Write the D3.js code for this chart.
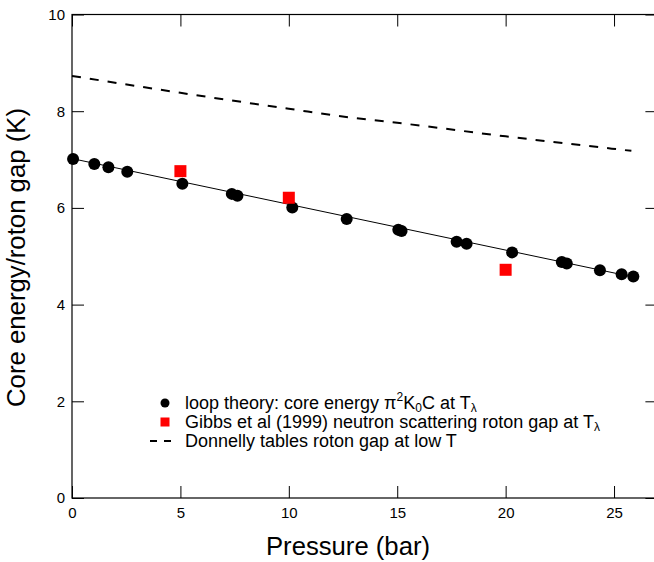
<!DOCTYPE html>
<html>
<head>
<meta charset="utf-8">
<script src="https://cdn.jsdelivr.net/npm/d3@7"></script>
<style>
  body { margin: 0; background: #fff; }
  svg { font-family: "Liberation Sans", Arial, Helvetica, sans-serif; }
</style>
</head>
<body>
<div id="chart"></div>
<script>
// loop theory core energy at T_lambda (pressure in bar, energy in K)
const loopPressure = [0.05, 1.03, 1.68, 2.55, 5.09, 7.37, 7.63, 10.16, 12.67, 15.05, 15.2, 17.74, 18.2, 20.3, 22.59, 22.82, 24.35, 25.35, 25.89];
const loopEnergy   = [7.01, 6.91, 6.84, 6.75, 6.50, 6.29, 6.25, 6.01, 5.77, 5.55, 5.52, 5.30, 5.26, 5.08, 4.88, 4.85, 4.71, 4.63, 4.58];

// straight fit through the loop theory points
const fitPressure = [0, 26];
const fitEnergy = [7.02, 4.56];

// Gibbs et al (1999) neutron scattering roton gap
const gibbsPressure = [5, 10, 20];
const gibbsGap = [6.76, 6.21, 4.72];

// Donnelly tables roton gap at low T
const donnellyPressure = [0, 5, 10, 13, 15, 20, 25.8];
const donnellyGap = [8.73, 8.38, 8.05, 7.86, 7.76, 7.48, 7.18];

const xTicks = [0, 5, 10, 15, 20, 25];
const yTicks = [0, 2, 4, 6, 8, 10];

function drawChart() {
  const width = 654, height = 562;

  const svg = d3.select("#chart")
    .append("svg")
    .attr("width", width)
    .attr("height", height);

  const x = d3.scaleLinear().domain([0, 27]).range([72, 657.4]);
  const y = d3.scaleLinear().domain([0, 10]).range([498, 14.5]);

  // frame
  svg.append("rect")
    .attr("x", x(0)).attr("y", y(10))
    .attr("width", x(27) - x(0)).attr("height", y(0) - y(10))
    .attr("fill", "none").attr("stroke", "#000").attr("stroke-width", 1.2);

  // axes, ticks pointing inwards
  const styleAxis = g => {
    g.select(".domain").remove();
    g.selectAll(".tick line").attr("stroke", "#000");
    g.selectAll(".tick text").attr("fill", "#000").style("font-size", "15px");
  };

  svg.append("g")
    .attr("transform", `translate(0,${y(0)})`)
    .call(d3.axisBottom(x).tickValues(xTicks).tickSizeInner(-12).tickSizeOuter(0).tickPadding(9))
    .call(styleAxis);

  svg.append("g")
    .attr("transform", `translate(0,${y(10)})`)
    .call(d3.axisTop(x).tickValues(xTicks).tickSizeInner(-12).tickSizeOuter(0).tickFormat(""))
    .call(styleAxis);

  svg.append("g")
    .attr("transform", `translate(${x(0)},0)`)
    .call(d3.axisLeft(y).tickValues(yTicks).tickSizeInner(-12).tickSizeOuter(0).tickPadding(7))
    .call(styleAxis);

  svg.append("g")
    .attr("transform", `translate(${x(27)},0)`)
    .call(d3.axisRight(y).tickValues(yTicks).tickSizeInner(-12).tickSizeOuter(0).tickFormat(""))
    .call(styleAxis);

  // Donnelly dashed curve
  const donnelly = donnellyPressure.map((p, i) => [p, donnellyGap[i]]);
  svg.append("path")
    .datum(donnelly)
    .attr("fill", "none")
    .attr("stroke", "#000")
    .attr("stroke-width", 2)
    .attr("stroke-dasharray", "9,9")
    .attr("d", d3.line().x(d => x(d[0])).y(d => y(d[1])).curve(d3.curveMonotoneX));

  // fit line
  const fit = fitPressure.map((p, i) => [p, fitEnergy[i]]);
  svg.append("path")
    .datum(fit)
    .attr("fill", "none")
    .attr("stroke", "#000")
    .attr("stroke-width", 1)
    .attr("d", d3.line().x(d => x(d[0])).y(d => y(d[1])));

  // loop theory points
  svg.append("g")
    .selectAll("circle")
    .data(loopPressure.map((p, i) => [p, loopEnergy[i]]))
    .enter().append("circle")
    .attr("cx", d => x(d[0]))
    .attr("cy", d => y(d[1]))
    .attr("r", 6)
    .attr("fill", "#000");

  // Gibbs points
  const sq = 12;
  svg.append("g")
    .selectAll("rect")
    .data(gibbsPressure.map((p, i) => [p, gibbsGap[i]]))
    .enter().append("rect")
    .attr("x", d => x(d[0]) - sq / 2)
    .attr("y", d => y(d[1]) - sq / 2)
    .attr("width", sq)
    .attr("height", sq)
    .attr("fill", "#ff0000");

  // axis titles
  svg.append("text")
    .attr("x", 266)
    .attr("y", 555)
    .attr("textLength", 164)
    .attr("lengthAdjust", "spacingAndGlyphs")
    .style("font-size", "25px")
    .text("Pressure (bar)");

  svg.append("text")
    .attr("transform", "rotate(-90)")
    .attr("x", -407)
    .attr("y", 25)
    .attr("textLength", 299)
    .attr("lengthAdjust", "spacingAndGlyphs")
    .style("font-size", "25px")
    .text("Core energy/roton gap (K)");

  // legend
  const lg = svg.append("g").style("font-size", "18px");
  const lx = 185, ly = [403, 422, 441];

  lg.append("circle").attr("cx", 165).attr("cy", ly[0]).attr("r", 4.5).attr("fill", "#000");
  lg.append("rect").attr("x", 160.5).attr("y", ly[1] - 4.5).attr("width", 9).attr("height", 9).attr("fill", "#ff0000");
  lg.append("line").attr("x1", 150).attr("x2", 176).attr("y1", ly[2]).attr("y2", ly[2])
    .attr("stroke", "#000").attr("stroke-width", 2).attr("stroke-dasharray", "7,7");

  const t1 = lg.append("text").attr("x", lx).attr("y", ly[0] + 6);
  t1.append("tspan").text("loop theory: core energy \u03c0");
  t1.append("tspan").attr("dy", -8).style("font-size", "12px").text("2");
  t1.append("tspan").attr("dy", 8).text("K");
  t1.append("tspan").attr("dy", 3).style("font-size", "12px").text("0");
  t1.append("tspan").attr("dy", -3).text("C at T");
  t1.append("tspan").attr("dy", 3).style("font-size", "12px").text("\u03bb");

  const t2 = lg.append("text").attr("x", lx).attr("y", ly[1] + 6);
  t2.append("tspan").text("Gibbs et al (1999) neutron scattering roton gap at T");
  t2.append("tspan").attr("dy", 3).style("font-size", "12px").text("\u03bb");

  lg.append("text").attr("x", lx).attr("y", ly[2] + 6)
    .text("Donnelly tables roton gap at low T");
}

document.addEventListener("DOMContentLoaded", drawChart);
</script>
</body>
</html>
